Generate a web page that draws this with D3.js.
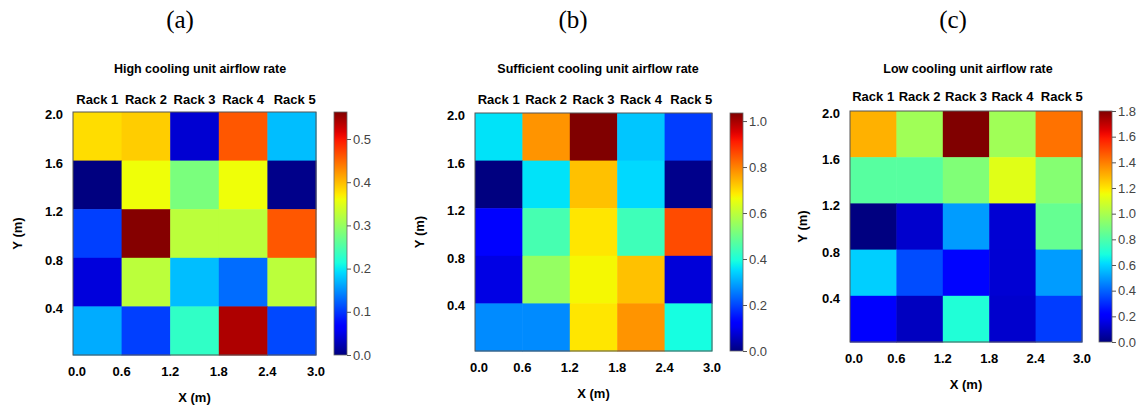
<!DOCTYPE html>
<html>
<head>
<meta charset="utf-8">
<script src="https://cdn.jsdelivr.net/npm/d3@7"></script>
<style>
  body { margin: 0; background: #fff; }
  svg { display: block; }
</style>
</head>
<body>
<script>
// rack names and axis ticks
let racks = ["Rack 1", "Rack 2", "Rack 3", "Rack 4", "Rack 5"]
let xTicks = [0.0, 0.6, 1.2, 1.8, 2.4, 3.0]
let yTicks = [0.4, 0.8, 1.2, 1.6, 2.0]

// airflow values, rows from top (Y 1.6-2.0) to bottom (Y 0-0.4), columns rack 1..5
let highRate = [
    [0.38, 0.39, 0.04, 0.46, 0.175],
    [0.0, 0.36, 0.28, 0.36, 0.005],
    [0.105, 0.56, 0.325, 0.325, 0.46],
    [0.045, 0.325, 0.175, 0.13, 0.325],
    [0.165, 0.105, 0.23, 0.54, 0.11]
]
let sufficientRate = [
    [0.36, 0.78, 1.035, 0.33, 0.19],
    [0.0, 0.36, 0.73, 0.35, 0.01],
    [0.13, 0.45, 0.69, 0.44, 0.86],
    [0.09, 0.55, 0.67, 0.73, 0.08],
    [0.27, 0.27, 0.69, 0.78, 0.39]
]
let lowRate = [
    [1.3, 0.98, 1.8, 0.98, 1.42],
    [0.82, 0.82, 0.91, 1.12, 0.92],
    [0.0, 0.12, 0.5, 0.13, 0.85],
    [0.59, 0.36, 0.23, 0.13, 0.5],
    [0.2, 0.1, 0.7, 0.12, 0.33]
]
let highTicks = [0.0, 0.1, 0.2, 0.3, 0.4, 0.5]
let sufficientTicks = [0.0, 0.2, 0.4, 0.6, 0.8, 1.0]
let lowTicks = [0.0, 0.2, 0.4, 0.6, 0.8, 1.0, 1.2, 1.4, 1.6, 1.8]

// matplotlib "jet"
function seg(pts, t) {
    for (let i = 1; i < pts.length; i++) {
        if (t <= pts[i][0]) {
            let a = pts[i-1], b = pts[i]
            return a[1] + (b[1]-a[1])*(t-a[0])/(b[0]-a[0])
        }
    }
    return pts[pts.length-1][1]
}
function jet(t) {
    t = Math.max(0, Math.min(1, t))
    let r = seg([[0,0],[0.35,0],[0.66,1],[0.89,1],[1,0.5]], t)
    let g = seg([[0,0],[0.125,0],[0.375,1],[0.64,1],[0.91,0],[1,0]], t)
    let b = seg([[0,0.5],[0.11,1],[0.34,1],[0.65,0],[1,0]], t)
    return d3.rgb(r*255, g*255, b*255).formatHex()
}

let W = 1140, H = 406
let svg = d3.select("body").append("svg").attr("width", W).attr("height", H)
let defs = svg.append("defs")

let panels = [
    {tag: "(a)", title: "High cooling unit airflow rate", data: highRate, vmax: 0.5625, ticks: highTicks,
     x0: 73, x1: 316, y0: 112, y1: 355, cb: 334, tagX: 180, titleX: 200, rackY: 104, ylabX: 17},
    {tag: "(b)", title: "Sufficient cooling unit airflow rate", data: sufficientRate, vmax: 1.035, ticks: sufficientTicks,
     x0: 475, x1: 712, y0: 113, y1: 351, cb: 730, tagX: 573, titleX: 598, rackY: 104, ylabX: 419},
    {tag: "(c)", title: "Low cooling unit airflow rate", data: lowRate, vmax: 1.8, ticks: lowTicks,
     x0: 850, x1: 1082, y0: 111, y1: 342, cb: 1099, tagX: 953, titleX: 968, rackY: 101, ylabX: 802}
]

let bold = "'Liberation Sans', Arial, sans-serif"

panels.forEach((p, pi) => {
    let g = svg.append("g")
    let xScale = d3.scaleLinear().domain([0, 3]).range([p.x0, p.x1])
    let yScale = d3.scaleLinear().domain([0, 2]).range([p.y1, p.y0])
    let rackScale = d3.scaleBand().domain(racks).range([p.x0, p.x1])
    let color = v => jet(v / p.vmax)

    g.append("text").attr("x", p.tagX).attr("y", 28)
        .attr("text-anchor", "middle")
        .style("font-family", "'Liberation Serif', 'Times New Roman', serif")
        .style("font-size", "25px").text(p.tag)

    g.append("text").attr("x", p.titleX).attr("y", 73)
        .attr("text-anchor", "middle")
        .style("font-family", bold).style("font-weight", "bold").style("font-size", "12.5px")
        .text(p.title)

    // cells
    let cells = []
    p.data.forEach((row, ri) => row.forEach((v, ci) => cells.push({ri, ci, v})))
    g.selectAll("rect.cell").data(cells).enter().append("rect")
        .attr("class", "cell")
        .attr("x", d => xScale(d.ci*0.6))
        .attr("y", d => yScale(2 - d.ri*0.4))
        .attr("width", d => xScale((d.ci+1)*0.6) - xScale(d.ci*0.6) + 0.5)
        .attr("height", d => yScale(2 - (d.ri+1)*0.4) - yScale(2 - d.ri*0.4) + 0.5)
        .attr("fill", d => color(d.v))
    g.append("rect").attr("x", p.x0).attr("y", p.y0)
        .attr("width", p.x1-p.x0).attr("height", p.y1-p.y0)
        .attr("fill", "none").attr("stroke", "#555").attr("stroke-width", 1)

    // rack labels
    g.selectAll("text.rack").data(racks).enter().append("text")
        .attr("class", "rack")
        .attr("x", d => rackScale(d) + rackScale.bandwidth()/2 + (d == "Rack 5" ? 3 : 0))
        .attr("y", p.rackY)
        .attr("text-anchor", "middle")
        .style("font-family", bold).style("font-weight", "bold").style("font-size", "13px")
        .text(d => d)

    // x ticks
    g.selectAll("text.xt").data(xTicks).enter().append("text")
        .attr("class", "xt")
        .attr("x", d => xScale(d) + (d == 0 ? 4 : 0))
        .attr("y", p.y1 + 21)
        .attr("text-anchor", "middle")
        .style("font-family", bold).style("font-weight", "bold").style("font-size", "13px")
        .text(d => d.toFixed(1))
    // y ticks
    g.selectAll("text.yt").data(yTicks).enter().append("text")
        .attr("class", "yt")
        .attr("x", p.x0 - 10)
        .attr("y", d => yScale(d) + 7)
        .attr("text-anchor", "end")
        .style("font-family", bold).style("font-weight", "bold").style("font-size", "13px")
        .text(d => d.toFixed(1))

    g.append("text").attr("x", (p.x0+p.x1)/2).attr("y", p.y1 + 47)
        .attr("text-anchor", "middle")
        .style("font-family", bold).style("font-weight", "bold").style("font-size", "13px")
        .text("X (m)")
    g.append("text")
        .attr("transform", `translate(${p.ylabX + 5},${(p.y0+p.y1)/2}) rotate(-90)`)
        .attr("text-anchor", "middle")
        .style("font-family", bold).style("font-weight", "bold").style("font-size", "13px")
        .text("Y (m)")

    // colorbar
    let gid = "jetgrad" + pi
    let grad = defs.append("linearGradient").attr("id", gid)
        .attr("x1", 0).attr("y1", 1).attr("x2", 0).attr("y2", 0)
    d3.range(0, 1.0001, 0.02).forEach(t => {
        grad.append("stop").attr("offset", t).attr("stop-color", jet(t))
    })
    let cbScale = d3.scaleLinear().domain([0, p.vmax]).range([p.y1, p.y0])
    g.append("rect").attr("x", p.cb).attr("y", p.y0)
        .attr("width", 13).attr("height", p.y1-p.y0)
        .attr("fill", `url(#${gid})`).attr("stroke", "#666").attr("stroke-width", 0.8)
    let cbAxis = d3.axisRight(cbScale).tickValues(p.ticks).tickFormat(d3.format(".1f"))
        .tickSize(4).tickPadding(2)
    let ax = g.append("g").attr("transform", `translate(${p.cb + 13},0)`).call(cbAxis)
    ax.select(".domain").remove()
    ax.selectAll("line").attr("stroke", "#555")
    ax.selectAll("text").attr("fill", "#444")
        .style("font-family", bold).style("font-size", "13px")
})
</script>
</body>
</html>
